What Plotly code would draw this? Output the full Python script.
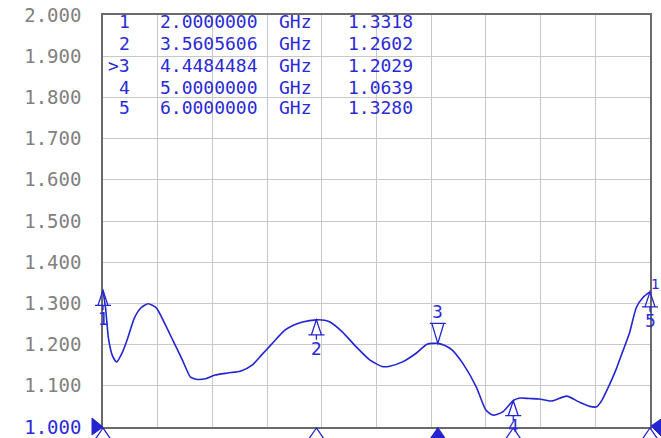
import plotly.graph_objects as go

# ---- data ----
freq_ghz = [2.00, 2.02, 2.04, 2.07, 2.10, 2.14, 2.18, 2.23, 2.28, 2.33, 2.39, 2.45, 2.51,
            2.58, 2.64, 2.68, 2.75, 2.82, 2.91, 3.01, 3.09, 3.16, 3.23, 3.33, 3.40, 3.46,
            3.56, 3.62, 3.66, 3.75, 3.85, 3.95, 4.04, 4.09, 4.19, 4.29, 4.37, 4.45, 4.50,
            4.55, 4.63, 4.73, 4.80, 4.85, 4.92, 5.00, 5.04, 5.12, 5.19, 5.28, 5.39, 5.48,
            5.56, 5.61, 5.65, 5.70, 5.75, 5.80, 5.85, 5.90, 5.95, 6.00]
vswr = [1.332, 1.285, 1.215, 1.172, 1.158, 1.180, 1.215, 1.265, 1.290, 1.299, 1.289, 1.252, 1.211,
        1.163, 1.121, 1.116, 1.117, 1.126, 1.131, 1.136, 1.150, 1.175, 1.200, 1.235, 1.248, 1.255,
        1.260, 1.259, 1.255, 1.231, 1.195, 1.163, 1.147, 1.147, 1.158, 1.179, 1.201, 1.203, 1.198,
        1.188, 1.155, 1.097, 1.041, 1.029, 1.036, 1.064, 1.070, 1.069, 1.068, 1.063, 1.075, 1.061,
        1.050, 1.049, 1.066, 1.100, 1.138, 1.183, 1.228, 1.290, 1.315, 1.328]

marker_ids = ["1", "2", "3", "4", "5"]
marker_freq = [2.0000000, 3.5605606, 4.4484484, 5.0000000, 6.0000000]
marker_val = [1.3318, 1.2602, 1.2029, 1.0639, 1.3280]
marker_freq_text = ["2.0000000", "3.5605606", "4.4484484", "5.0000000", "6.0000000"]
marker_val_text = ["1.3318", "1.2602", "1.2029", "1.0639", "1.3280"]
active_marker = "3"

y_ticks = [1.0, 1.1, 1.2, 1.3, 1.4, 1.5, 1.6, 1.7, 1.8, 1.9, 2.0]
y_tick_labels = ["1.000", "1.100", "1.200", "1.300", "1.400", "1.500",
                 "1.600", "1.700", "1.800", "1.900", "2.000"]

X_MIN, X_MAX = 2.0, 6.0
Y_MIN, Y_MAX = 1.0, 2.0

BLUE = "#2424d2"
TXT_BLUE = "#2a2ad6"
GRAY_TXT = "#808080"

W, H = 661, 438
ML, MR, MT, MB = 103, 11, 15, 11
PW = W - ML - MR
PH = H - MT - MB

fig = go.Figure()
fig.add_trace(go.Scatter(x=freq_ghz, y=vswr, mode="lines",
                         line=dict(color=BLUE, width=1.6, shape="spline", smoothing=0.6),
                         hoverinfo="skip", showlegend=False))

ticktext = [f"<span style='color:{TXT_BLUE}'>{t}</span>" if v == Y_MIN else t
            for v, t in zip(y_ticks, y_tick_labels)]

fig.update_layout(
    width=W, height=H,
    margin=dict(l=ML, r=MR, t=MT, b=MB, autoexpand=False),
    paper_bgcolor="white", plot_bgcolor="white",
    xaxis=dict(range=[X_MIN, X_MAX], dtick=0.4, tick0=X_MIN, showticklabels=False,
               showgrid=True, gridcolor="#c8c8c8", gridwidth=1, zeroline=False, automargin=False,
               showline=True, linecolor="#6a6a6a", linewidth=1.5, mirror=True, ticks=""),
    yaxis=dict(range=[Y_MIN, Y_MAX], tickvals=y_ticks, ticktext=ticktext, automargin=False,
               showgrid=True, gridcolor="#c8c8c8", gridwidth=1, zeroline=False,
               showline=True, linecolor="#6a6a6a", linewidth=1.5, mirror=True, ticks="",
               ticklabelstandoff=16,
               tickfont=dict(family="DejaVu Sans Mono", size=19, color=GRAY_TXT)),
)

def px(f):
    return (f - X_MIN) / (X_MAX - X_MIN)

def py(v):
    return (v - Y_MIN) / (Y_MAX - Y_MIN)

shapes = []
annotations = []
for mid, f, v in zip(marker_ids, marker_freq, marker_val):
    active = (mid == active_marker)
    if active:
        path = "M0,0 L-6,20 L6,20 Z M-8,20 L8,20"
        yshift = 31
    else:
        path = "M0,0 L-5,-15 L5,-15 Z M-8,-15 L8,-15 M0,-15 L0,-20"
        yshift = -29 if py(v) > 0.1 else -25
    shapes.append(dict(type="path", xref="paper", yref="paper",
                       xsizemode="pixel", ysizemode="pixel",
                       xanchor=px(f), yanchor=py(v), path=path,
                       line=dict(color=BLUE, width=1.3), fillcolor="rgba(0,0,0,0)"))
    annotations.append(dict(x=f, y=v, xref="x", yref="y", text=mid, showarrow=False,
                            yshift=yshift, font=dict(family="DejaVu Sans", size=17, color=TXT_BLUE)))
    # bottom axis indicator
    shapes.append(dict(type="path", xref="paper", yref="paper",
                       xsizemode="pixel", ysizemode="pixel",
                       xanchor=px(f), yanchor=0, path="M0,-1 L-9,-14 L9,-14 Z",
                       line=dict(color=BLUE, width=1.3),
                       fillcolor=BLUE if active else "rgba(0,0,0,0)"))

# reference level indicator (left) and right-edge indicator
shapes.append(dict(type="path", xref="paper", yref="paper", xsizemode="pixel", ysizemode="pixel",
                   xanchor=0, yanchor=0, path="M0,0 L-11,9 L-11,-8 Z",
                   line=dict(color=BLUE, width=1), fillcolor=BLUE))
shapes.append(dict(type="path", xref="paper", yref="paper", xsizemode="pixel", ysizemode="pixel",
                   xanchor=1, yanchor=0, path="M1,1 L14,10 L14,-12 Z",
                   line=dict(color=BLUE, width=1), fillcolor=BLUE))

# trace number label at right edge
annotations.append(dict(x=1.0, y=marker_val[-1], xref="paper", yref="y", text="1",
                        showarrow=False, xanchor="left", xshift=-1, yshift=8,
                        font=dict(family="DejaVu Sans", size=14, color=TXT_BLUE)))

# marker table
row_px = [22, 44, 66, 87, 107]
for i, mid in enumerate(marker_ids):
    yp = (H - MB - row_px[i]) / PH
    label = (">" + mid) if mid == active_marker else mid
    fnt = dict(family="DejaVu Sans Mono", size=18, color=TXT_BLUE)
    annotations.append(dict(x=(132 - ML) / PW, y=yp, xref="paper", yref="paper",
                            text=label, showarrow=False, xanchor="right", yanchor="middle", font=fnt))
    annotations.append(dict(x=(158 - ML) / PW, y=yp, xref="paper", yref="paper",
                            text=marker_freq_text[i], showarrow=False, xanchor="left",
                            yanchor="middle", font=fnt))
    annotations.append(dict(x=(277 - ML) / PW, y=yp, xref="paper", yref="paper",
                            text="GHz", showarrow=False, xanchor="left", yanchor="middle", font=fnt))
    annotations.append(dict(x=(346 - ML) / PW, y=yp, xref="paper", yref="paper",
                            text=marker_val_text[i], showarrow=False, xanchor="left",
                            yanchor="middle", font=fnt))

fig.update_layout(shapes=shapes, annotations=annotations)
fig.write_html("out.html", config={"displayModeBar": False},
               post_script="document.body.style.margin='0';document.body.style.padding='0';"
                           "document.body.style.overflow='hidden';")
